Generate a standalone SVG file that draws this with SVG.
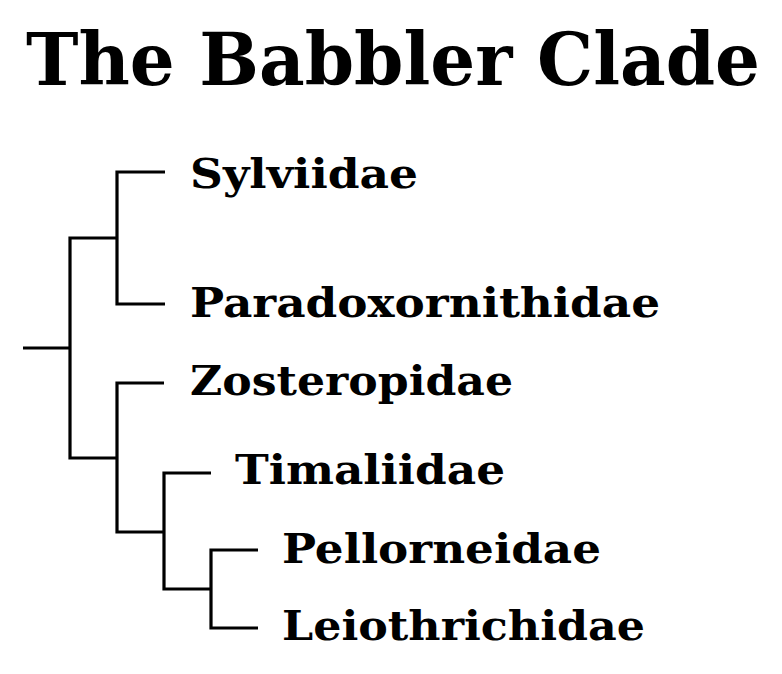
<svg xmlns="http://www.w3.org/2000/svg" width="782" height="674" viewBox="0 0 782 674">
<style>
.t{font-family:"DejaVu Serif","Liberation Serif",serif;font-weight:bold;fill:#000}
.lab{font-size:41px}
.title{font-size:72px}
.e{fill:none;stroke:#000;stroke-width:3.2;stroke-linecap:butt;stroke-linejoin:miter}
</style>
<rect width="782" height="674" fill="#fff"/>
<text id="title" class="t title" x="26" y="85" textLength="734" lengthAdjust="spacingAndGlyphs">The Babbler Clade</text>
<g id="connectors">
<path class="e" d="M23,348H70"/>
<path class="e" d="M117,238H70V458H117"/>
<path class="e" d="M165,172H117V304H165"/>
<path class="e" d="M164,383H117V532H164"/>
<path class="e" d="M211,473H164V589H211"/>
<path class="e" d="M258,550H211V628H258"/>
</g>
<g id="n-sylviidae"><text class="t lab" x="190" y="188" textLength="228" lengthAdjust="spacingAndGlyphs">Sylviidae</text></g>
<g id="n-paradoxornithidae"><text class="t lab" x="190" y="317" textLength="470" lengthAdjust="spacingAndGlyphs">Paradoxornithidae</text></g>
<g id="n-zosteropidae"><text class="t lab" x="190" y="395" textLength="323" lengthAdjust="spacingAndGlyphs">Zosteropidae</text></g>
<g id="n-timaliidae"><text class="t lab" x="235" y="484" textLength="270" lengthAdjust="spacingAndGlyphs">Timaliidae</text></g>
<g id="n-pellorneidae"><text class="t lab" x="282" y="563" textLength="319" lengthAdjust="spacingAndGlyphs">Pellorneidae</text></g>
<g id="n-leiothrichidae"><text class="t lab" x="282" y="640" textLength="363" lengthAdjust="spacingAndGlyphs">Leiothrichidae</text></g>
</svg>
